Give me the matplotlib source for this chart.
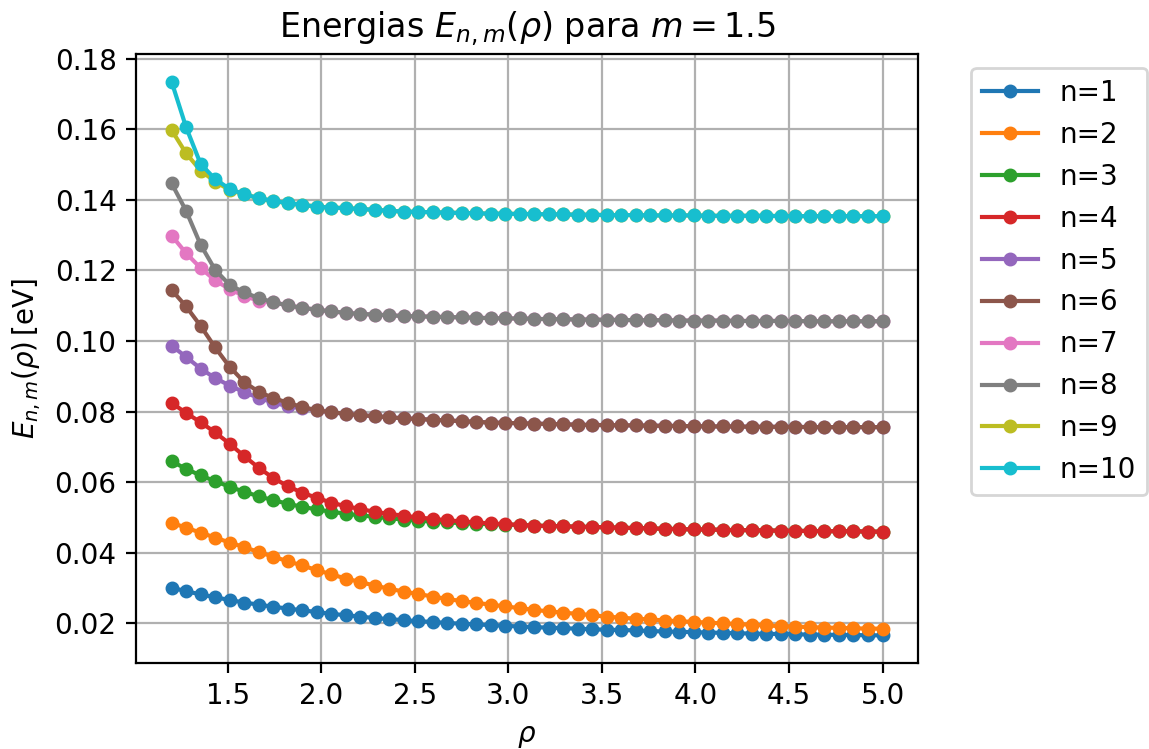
import numpy as np
import matplotlib
matplotlib.use('Agg')
import matplotlib.pyplot as plt

# rho grid: 50 equally spaced points between 1.2 and 5.0
rho_start, rho_end, n_points = 1.2, 5.0, 50
rho = np.linspace(rho_start, rho_end, n_points)

labels = ['n=1', 'n=2', 'n=3', 'n=4', 'n=5', 'n=6', 'n=7', 'n=8', 'n=9', 'n=10']

E1 = [0.0301, 0.0291, 0.0282, 0.0274, 0.0266, 0.0259, 0.0253, 0.0247, 0.0242, 0.0237,
      0.0232, 0.0227, 0.0223, 0.0219, 0.0215, 0.0212, 0.0209, 0.0206, 0.0204, 0.0201,
      0.0199, 0.0197, 0.0195, 0.0193, 0.0191, 0.0189, 0.0188, 0.0186, 0.0185, 0.0183,
      0.0182, 0.0181, 0.0180, 0.0178, 0.0177, 0.0176, 0.0175, 0.0174, 0.0173, 0.0172,
      0.0171, 0.0170, 0.0170, 0.0169, 0.0168, 0.0168, 0.0167, 0.0167, 0.0166, 0.0166]
E2 = [0.0485, 0.0471, 0.0457, 0.0443, 0.0429, 0.0416, 0.0402, 0.0389, 0.0376, 0.0364,
      0.0351, 0.0339, 0.0327, 0.0317, 0.0307, 0.0298, 0.0290, 0.0283, 0.0276, 0.0269,
      0.0263, 0.0258, 0.0253, 0.0248, 0.0243, 0.0238, 0.0234, 0.0230, 0.0227, 0.0223,
      0.0219, 0.0216, 0.0213, 0.0211, 0.0208, 0.0206, 0.0204, 0.0202, 0.0200, 0.0198,
      0.0196, 0.0194, 0.0192, 0.0191, 0.0189, 0.0188, 0.0187, 0.0186, 0.0185, 0.0185]
E3 = [0.0659, 0.0638, 0.0619, 0.0603, 0.0587, 0.0573, 0.0560, 0.0549, 0.0539, 0.0530,
      0.0523, 0.0516, 0.0511, 0.0506, 0.0502, 0.0498, 0.0494, 0.0491, 0.0488, 0.0486,
      0.0484, 0.0482, 0.0481, 0.0480, 0.0479, 0.0477, 0.0476, 0.0475, 0.0474, 0.0473,
      0.0472, 0.0471, 0.0470, 0.0469, 0.0468, 0.0467, 0.0466, 0.0466, 0.0465, 0.0464,
      0.0464, 0.0463, 0.0463, 0.0462, 0.0462, 0.0461, 0.0461, 0.0461, 0.0460, 0.0460]
E4 = [0.0825, 0.0796, 0.0770, 0.0741, 0.0709, 0.0674, 0.0641, 0.0612, 0.0589, 0.0570,
      0.0556, 0.0542, 0.0532, 0.0524, 0.0516, 0.0510, 0.0505, 0.0500, 0.0496, 0.0492,
      0.0489, 0.0486, 0.0483, 0.0481, 0.0479, 0.0477, 0.0476, 0.0475, 0.0474, 0.0473,
      0.0472, 0.0471, 0.0470, 0.0469, 0.0468, 0.0467, 0.0466, 0.0466, 0.0465, 0.0464,
      0.0464, 0.0463, 0.0463, 0.0462, 0.0462, 0.0461, 0.0461, 0.0461, 0.0460, 0.0460]
E5 = [0.0987, 0.0955, 0.0922, 0.0895, 0.0874, 0.0855, 0.0839, 0.0826, 0.0815, 0.0810,
      0.0804, 0.0798, 0.0794, 0.0790, 0.0787, 0.0784, 0.0781, 0.0779, 0.0777, 0.0775,
      0.0773, 0.0771, 0.0769, 0.0768, 0.0767, 0.0766, 0.0765, 0.0764, 0.0763, 0.0762,
      0.0762, 0.0761, 0.0761, 0.0760, 0.0760, 0.0759, 0.0759, 0.0758, 0.0758, 0.0758,
      0.0757, 0.0757, 0.0757, 0.0757, 0.0756, 0.0756, 0.0756, 0.0756, 0.0756, 0.0756]
E6 = [0.1145, 0.1098, 0.1043, 0.0982, 0.0927, 0.0884, 0.0856, 0.0839, 0.0825, 0.0813,
      0.0804, 0.0798, 0.0794, 0.0790, 0.0787, 0.0784, 0.0781, 0.0779, 0.0777, 0.0775,
      0.0773, 0.0771, 0.0769, 0.0768, 0.0767, 0.0766, 0.0765, 0.0764, 0.0763, 0.0762,
      0.0762, 0.0761, 0.0761, 0.0760, 0.0760, 0.0759, 0.0759, 0.0758, 0.0758, 0.0758,
      0.0757, 0.0757, 0.0757, 0.0757, 0.0756, 0.0756, 0.0756, 0.0756, 0.0756, 0.0756]
E7 = [0.1299, 0.1249, 0.1207, 0.1172, 0.1147, 0.1128, 0.1114, 0.1110, 0.1101, 0.1094,
      0.1089, 0.1084, 0.1080, 0.1077, 0.1075, 0.1073, 0.1071, 0.1070, 0.1069, 0.1068,
      0.1067, 0.1066, 0.1065, 0.1064, 0.1064, 0.1063, 0.1062, 0.1062, 0.1061, 0.1061,
      0.1060, 0.1060, 0.1059, 0.1059, 0.1059, 0.1058, 0.1058, 0.1058, 0.1058, 0.1057,
      0.1057, 0.1057, 0.1057, 0.1057, 0.1056, 0.1056, 0.1056, 0.1056, 0.1056, 0.1056]
E8 = [0.1447, 0.1369, 0.1273, 0.1202, 0.1159, 0.1138, 0.1122, 0.1110, 0.1101, 0.1094,
      0.1089, 0.1084, 0.1080, 0.1077, 0.1075, 0.1073, 0.1071, 0.1070, 0.1069, 0.1068,
      0.1067, 0.1066, 0.1065, 0.1064, 0.1064, 0.1063, 0.1062, 0.1062, 0.1061, 0.1061,
      0.1060, 0.1060, 0.1059, 0.1059, 0.1059, 0.1058, 0.1058, 0.1058, 0.1058, 0.1057,
      0.1057, 0.1057, 0.1057, 0.1057, 0.1056, 0.1056, 0.1056, 0.1056, 0.1056, 0.1056]
E9 = [0.1598, 0.1532, 0.1483, 0.1452, 0.1428, 0.1416, 0.1405, 0.1397, 0.1391, 0.1386,
      0.1381, 0.1378, 0.1377, 0.1374, 0.1372, 0.1369, 0.1367, 0.1366, 0.1365, 0.1364,
      0.1363, 0.1362, 0.1361, 0.1361, 0.1360, 0.1360, 0.1359, 0.1359, 0.1358, 0.1358,
      0.1357, 0.1357, 0.1357, 0.1356, 0.1356, 0.1356, 0.1356, 0.1355, 0.1355, 0.1355,
      0.1355, 0.1355, 0.1354, 0.1354, 0.1354, 0.1354, 0.1354, 0.1354, 0.1354, 0.1354]
E10 = [0.1735, 0.1606, 0.1502, 0.1459, 0.1431, 0.1416, 0.1405, 0.1397, 0.1391, 0.1386,
       0.1381, 0.1378, 0.1377, 0.1374, 0.1372, 0.1369, 0.1367, 0.1366, 0.1365, 0.1364,
       0.1363, 0.1362, 0.1361, 0.1361, 0.1360, 0.1360, 0.1359, 0.1359, 0.1358, 0.1358,
       0.1357, 0.1357, 0.1357, 0.1356, 0.1356, 0.1356, 0.1356, 0.1355, 0.1355, 0.1355,
       0.1355, 0.1355, 0.1354, 0.1354, 0.1354, 0.1354, 0.1354, 0.1354, 0.1354, 0.1354]

energias = [E1, E2, E3, E4, E5, E6, E7, E8, E9, E10]

fig = plt.figure(figsize=(1149/200, 749/200), dpi=200)
ax = fig.add_axes([0.1184, 0.1148, 0.7990-0.1184, 0.9279-0.1148])

for E, lab in zip(energias, labels):
    ax.plot(rho, E, marker='o', markersize=4, label=lab)

ax.set_xlabel(r'$\rho$')
ax.set_ylabel(r'$E_{n,m}(\rho)\,[\mathrm{eV}]$')
ax.set_title(r'Energias $E_{n,m}(\rho)$ para $m = 1.5$', fontsize=12)
ax.grid(True)
ax.legend(bbox_to_anchor=(1.05, 1), loc='upper left')

fig.savefig('out.png', dpi=200)
